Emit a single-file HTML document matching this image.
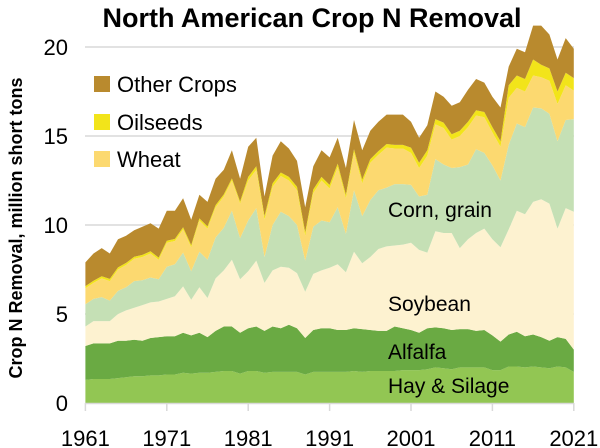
<!DOCTYPE html>
<html><head><meta charset="utf-8"><style>
html,body{margin:0;padding:0;background:#fff;}
svg{display:block;font-family:"Liberation Sans",sans-serif;}
</style></head><body>
<svg id="s" width="600" height="448" viewBox="0 0 600 448" xmlns="http://www.w3.org/2000/svg">
<g stroke="#d9d9d9" stroke-width="1.5">
<line x1="85" y1="47" x2="574" y2="47"/><line x1="85" y1="136" x2="574" y2="136"/>
<line x1="85" y1="225" x2="574" y2="225"/><line x1="85" y1="314" x2="574" y2="314"/>
</g>
<g id="areas"></g>
<g stroke="#d9d9d9" stroke-width="1.5">
<line x1="85" y1="403.5" x2="574" y2="403.5"/>
<line x1="85.4" y1="403" x2="85.4" y2="411"/><line x1="166.8" y1="403" x2="166.8" y2="411"/>
<line x1="248.2" y1="403" x2="248.2" y2="411"/><line x1="329.6" y1="403" x2="329.6" y2="411"/>
<line x1="411" y1="403" x2="411" y2="411"/><line x1="492.4" y1="403" x2="492.4" y2="411"/>
<line x1="573.8" y1="403" x2="573.8" y2="411"/>
</g>
<text x="312" y="27" font-size="27" font-weight="bold" text-anchor="middle">North American Crop N Removal</text>
<g font-size="22" text-anchor="end">
<text x="68" y="411">0</text><text x="68" y="322">5</text><text x="68" y="233">10</text>
<text x="68" y="144">15</text><text x="68" y="55">20</text>
</g>
<g font-size="22" text-anchor="middle">
<text x="85.4" y="446">1961</text><text x="166.8" y="446">1971</text><text x="248.2" y="446">1981</text>
<text x="329.6" y="446">1991</text><text x="411" y="446">2001</text><text x="492.4" y="446">2011</text>
<text x="573.8" y="446">2021</text>
</g>
<text transform="translate(22,228) rotate(-90)" font-size="18" font-weight="bold" text-anchor="middle">Crop N Removal, million short tons</text>
<rect x="94" y="76" width="16" height="16" fill="#b98a2e"/>
<rect x="94" y="114" width="16" height="16" fill="#f2e41a"/>
<rect x="94" y="151" width="16" height="16" fill="#fcd970"/>
<g font-size="22">
<text x="117" y="92">Other Crops</text><text x="117" y="130">Oilseeds</text><text x="117" y="167">Wheat</text>
</g>
<g font-size="21">
<text x="388" y="217">Corn, grain</text><text x="388" y="311">Soybean</text>
<text x="388" y="359">Alfalfa</text><text x="388" y="393">Hay &amp; Silage</text>
</g>
</svg>
<script>
var hay=[1.3,1.35,1.35,1.35,1.4,1.45,1.5,1.5,1.55,1.55,1.6,1.6,1.7,1.65,1.7,1.7,1.75,1.8,1.8,1.65,1.8,1.8,1.7,1.75,1.75,1.75,1.75,1.6,1.75,1.75,1.75,1.75,1.75,1.8,1.75,1.8,1.8,1.8,1.8,1.85,1.85,1.85,1.9,2.0,1.95,1.9,2.0,2.0,2.0,2.0,1.85,1.85,2.05,2.05,2.0,2.05,2.0,1.95,2.05,2.0,1.75];
var alf=[3.2,3.35,3.35,3.35,3.5,3.5,3.55,3.5,3.65,3.7,3.75,3.75,3.95,3.8,3.95,3.7,4.05,4.3,4.3,3.95,4.2,4.3,4.05,4.3,4.2,4.4,4.2,3.65,4.1,4.2,4.2,4.1,4.1,4.2,4.15,4.1,4.05,4.05,4.3,4.2,4.1,3.95,4.2,4.25,4.2,4.1,4.15,4.15,4.05,4.1,3.8,3.45,3.85,4.0,3.75,3.85,3.7,3.5,3.7,3.6,3.0];
var soy=[4.3,4.6,4.6,4.6,5.0,5.2,5.35,5.5,5.65,5.7,5.85,6.0,6.55,5.8,6.5,5.9,7.0,7.45,8.05,6.95,7.4,8.0,6.75,7.45,7.65,7.6,7.3,6.25,7.25,7.45,7.6,7.8,7.35,8.5,7.85,8.2,8.65,8.8,8.85,8.9,9.0,8.6,8.45,9.65,9.55,9.55,8.7,9.2,9.55,9.8,9.2,8.75,9.75,10.8,10.6,11.3,11.45,11.2,9.8,10.95,10.75];
var corn=[5.55,5.85,5.95,5.75,6.3,6.5,6.85,6.9,7.05,6.95,7.65,7.8,8.45,7.4,8.5,8.05,9.3,9.85,10.8,9.25,10.25,10.95,8.2,10.0,10.75,10.5,10.0,8.0,9.9,10.25,10.15,11.0,9.5,11.95,10.5,11.4,11.95,12.1,12.3,12.3,12.25,11.6,11.7,13.7,13.4,13.2,13.25,13.4,14.25,14.05,13.35,12.5,14.5,15.7,15.5,16.6,16.55,16.25,14.7,15.9,15.95];
var wh=[6.45,6.75,7.0,6.85,7.5,7.75,8.1,8.2,8.4,8.05,9.0,9.1,9.75,8.75,10.25,9.8,11.0,11.6,12.5,11.2,12.5,13.1,10.3,12.15,12.75,12.5,11.95,9.4,11.8,12.5,12.05,13.25,11.5,14.05,12.35,13.5,13.95,14.35,14.3,14.3,14.05,13.2,13.9,15.65,15.45,14.8,15.0,15.5,16.15,16.05,15.2,14.4,17.15,17.7,17.5,18.4,18.3,18.1,16.8,17.85,17.55];
var tot=[7.9,8.4,8.7,8.4,9.2,9.4,9.7,9.9,10.1,9.8,10.8,10.8,11.5,10.3,11.7,11.3,12.6,13.1,14.2,12.6,14.4,14.9,11.6,13.9,14.7,14.3,13.6,11.0,13.3,14.2,13.8,14.9,13.2,15.9,14.2,15.3,15.8,16.2,16.2,16.2,15.8,14.9,15.6,17.5,17.2,16.7,16.9,17.6,18.2,18.0,17.2,16.6,18.9,19.9,19.7,21.2,21.2,20.7,19.3,20.5,19.9];
var oil=wh.map(function(v,i){var d=i<20?0.12:i<40?0.2:i<52?0.3:(i==55?0.9:0.7);return v+d;});
var zero=hay.map(function(){return 0;});
var L=[[zero,hay,"#92c653"],[hay,alf,"#6aaa43"],[alf,soy,"#fdf2d0"],[soy,corn,"#c5e0b5"],[corn,wh,"#fcd970"],[wh,oil,"#f2e41a"],[oil,tot,"#b98a2e"]];
function X(i){return 85.4+i*8.14;}function Y(v){return 403-v*17.8;}
var g=document.getElementById("areas"),h="";
L.forEach(function(l){var p="M";for(var i=0;i<61;i++)p+=X(i).toFixed(1)+","+Y(l[1][i]).toFixed(1)+" L";
for(var i=60;i>=0;i--)p+=X(i).toFixed(1)+","+Y(l[0][i]).toFixed(1)+(i?" L":"");
h+='<path d="'+p+'Z" fill="'+l[2]+'"/>';});
g.innerHTML=h;
</script>
</body></html>
